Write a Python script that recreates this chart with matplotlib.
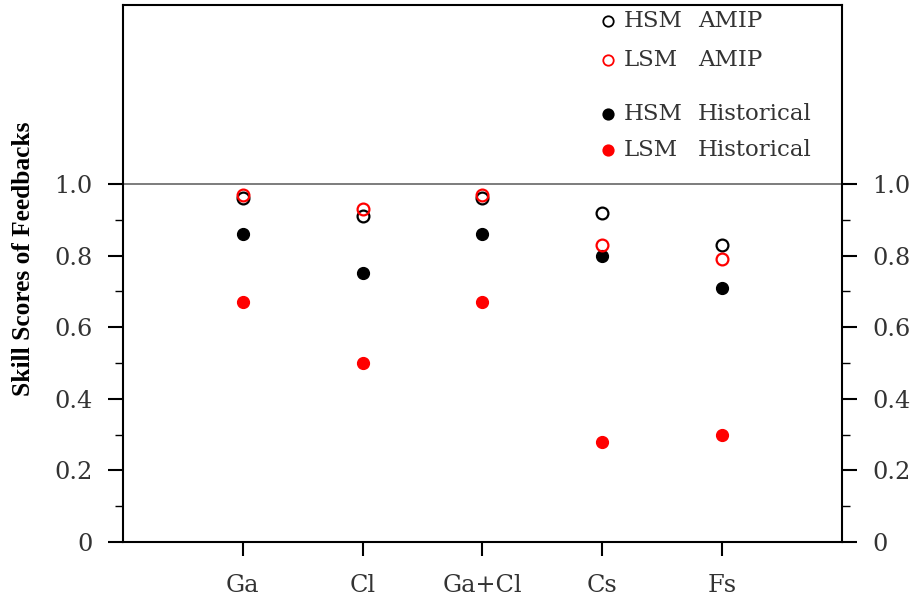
import numpy as np
import matplotlib
matplotlib.use('Agg')
import matplotlib.pyplot as plt
from matplotlib.ticker import FixedLocator

categories = ['Ga', 'Cl', 'Ga+Cl', 'Cs', 'Fs']
hsm_amip = [0.96, 0.91, 0.96, 0.92, 0.83]
lsm_amip = [0.97, 0.93, 0.97, 0.83, 0.79]
hsm_hist = [0.86, 0.75, 0.86, 0.80, 0.71]
lsm_hist = [0.67, 0.50, 0.67, 0.28, 0.30]
yticks = [0, 0.2, 0.4, 0.6, 0.8, 1.0]
ytick_labels = ['0', '0.2', '0.4', '0.6', '0.8', '1.0']

tickfont = 'DejaVu Serif'
textcol = '#333333'

fig = plt.figure(figsize=(9.18, 6.03), dpi=100)
ax = fig.add_axes([0.134, 0.1012, 0.783, 0.8905])
x = np.arange(1, len(categories) + 1)

ax.axhline(1.0, color='#666666', lw=1.2, zorder=1)

ms = 8.5
ax.plot(x, hsm_hist, 'o', color='black', ms=ms, ls='none', zorder=3)
ax.plot(x, lsm_hist, 'o', color='red', mec='red', ms=ms, ls='none', zorder=3)
ax.plot(x, hsm_amip, 'o', mfc='none', mec='black', mew=1.6, ms=ms, ls='none', zorder=3)
ax.plot(x, lsm_amip, 'o', mfc='none', mec='red', mew=1.6, ms=ms, ls='none', zorder=4)

ax.set_xlim(0, 6)
ax.set_ylim(0, 1.5)
ax.set_xticks(x)
ax.set_xticklabels(categories, fontfamily=tickfont, fontsize=17.3)
ax.yaxis.set_major_locator(FixedLocator(yticks))
ax.yaxis.set_minor_locator(FixedLocator([0.1, 0.3, 0.5, 0.7, 0.9]))
ax.set_yticklabels(ytick_labels, fontfamily=tickfont, fontsize=17.3)
ax.tick_params(axis='y', which='major', direction='out', length=11, width=1.5, pad=11,
               right=True, labelright=True, colors='black', labelcolor=textcol)
ax.tick_params(axis='x', which='major', direction='out', length=10, width=1.5, pad=13,
               colors='black', labelcolor=textcol)
ax.tick_params(axis='y', which='minor', direction='out', length=5.5, width=1, right=True)
for lab in ax.get_yticklabels(which='both'):
    lab.set_fontfamily(tickfont)
    lab.set_fontsize(17.3)
for s in ax.spines.values():
    s.set_linewidth(1.5)

ax.text(-0.139, 0.527, 'Skill Scores of Feedbacks', transform=ax.transAxes, rotation=90,
        ha='center', va='center', fontfamily='Liberation Serif', fontweight='bold', fontsize=18.3)

# legend drawn manually, two groups; words placed in columns like the original
entries = [('HSM', 'AMIP', 0.97, dict(mfc='none', mec='black')),
           ('LSM', 'AMIP', 0.898, dict(mfc='none', mec='red')),
           ('HSM', 'Historical', 0.797, dict(mfc='black', mec='black')),
           ('LSM', 'Historical', 0.73, dict(mfc='red', mec='red'))]
for w1, w2, yy, st in entries:
    ax.plot([0.675], [yy], 'o', transform=ax.transAxes, ms=7.5, mew=1.3, clip_on=False, **st)
    ax.text(0.697, yy, w1, transform=ax.transAxes, va='center', ha='left',
            fontfamily=tickfont, fontsize=16.5, color=textcol)
    ax.text(0.800, yy, w2, transform=ax.transAxes, va='center', ha='left',
            fontfamily=tickfont, fontsize=16.5, color=textcol)

fig.savefig('out.png', dpi=100)
